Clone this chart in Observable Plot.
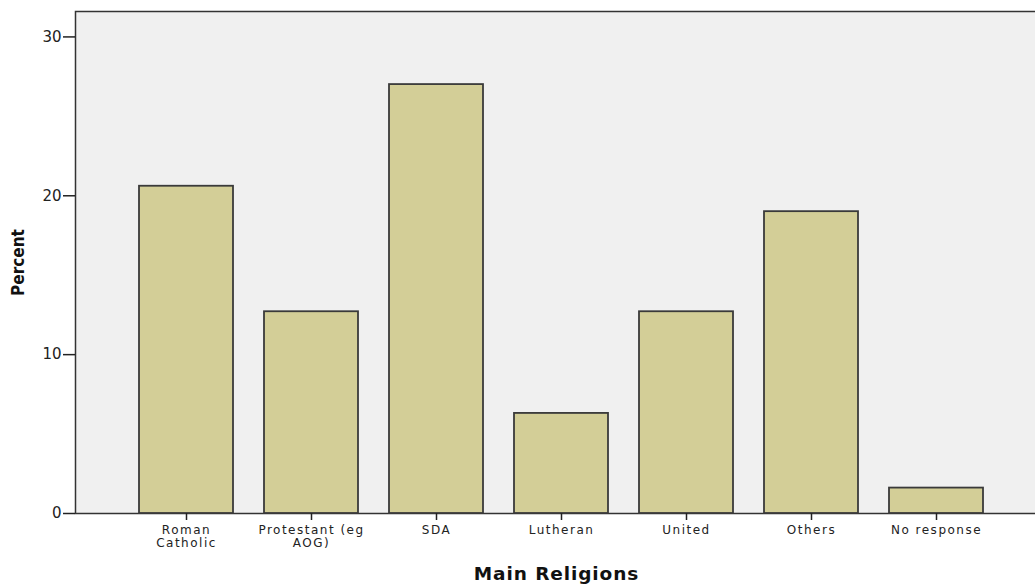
<!DOCTYPE html>
<html>
<head>
<meta charset="utf-8">
<script src="https://cdn.jsdelivr.net/npm/d3@7"></script>
<script src="https://cdn.jsdelivr.net/npm/@observablehq/plot@0.6"></script>
<style>
  html, body { margin: 0; padding: 0; background: #ffffff; overflow: hidden; }
  #chart { width: 1035px; height: 585px; overflow: hidden; }
  #chart svg { max-width: none !important; }
</style>
</head>
<body>
<div id="chart"></div>
<script>
const religions = ["Roman Catholic", "Protestant (eg AOG)", "SDA", "Lutheran", "United", "Others", "No response"];
const tickLabels = ["Roman\nCatholic", "Protestant (eg\nAOG)", "SDA", "Lutheran", "United", "Others", "No response"];
const percents = [20.6, 12.7, 27.0, 6.3, 12.7, 19.0, 1.6];
const yTicks = [0, 10, 20, 30];
const yMax = 31.6;

const data = religions.map((r, i) => ({religion: r, percent: percents[i]}));

const chart = Plot.plot({
  width: 1040,
  height: 585,
  marginTop: 11,
  marginBottom: 72,
  marginLeft: 75,
  marginRight: 3,
  style: {fontFamily: "DejaVu Sans, sans-serif", background: "#ffffff", color: "#222", maxWidth: "none"},
  x: {domain: religions, paddingInner: 0.25, paddingOuter: 0.473, align: 0.537},
  y: {domain: [0, yMax]},
  marks: [
    Plot.frame({fill: "#f0f0f0", stroke: "#333", strokeWidth: 1.5}),
    Plot.barY(data, {x: "religion", y: "percent", fill: "#d3ce97", stroke: "#3a3a3a", strokeWidth: 1.8}),
    Plot.axisY({ticks: yTicks, tickSize: 12, tickPadding: 2, fontSize: 15, strokeWidth: 1.5,
      label: "Percent", labelAnchor: "center", labelArrow: false, labelOffset: 64}),
    Plot.axisX({tickSize: 7, tickPadding: 4, fontSize: 12, lineHeight: 1.12, strokeWidth: 1.5,
      tickFormat: d => tickLabels[religions.indexOf(d)],
      label: "Main Religions", labelAnchor: "center", labelArrow: false, labelOffset: 66})
  ]
});

const svg = d3.select(chart);
svg.selectAll('g[aria-label="x-axis tick label"], g[aria-label="x-axis tick label"] text')
  .attr("letter-spacing", "1.5px");
svg.selectAll('g[aria-label="x-axis label"], g[aria-label="x-axis label"] text')
  .attr("font-size", 18.5).attr("font-weight", "bold").attr("letter-spacing", "0.9px").attr("fill", "#111");
svg.selectAll('g[aria-label="y-axis label"], g[aria-label="y-axis label"] text')
  .attr("font-size", 17).attr("font-weight", "bold").attr("fill", "#111")
  .attr("font-family", "DejaVu Sans Condensed, Liberation Sans Narrow, DejaVu Sans, sans-serif");

document.getElementById("chart").appendChild(chart);
</script>
</body>
</html>
